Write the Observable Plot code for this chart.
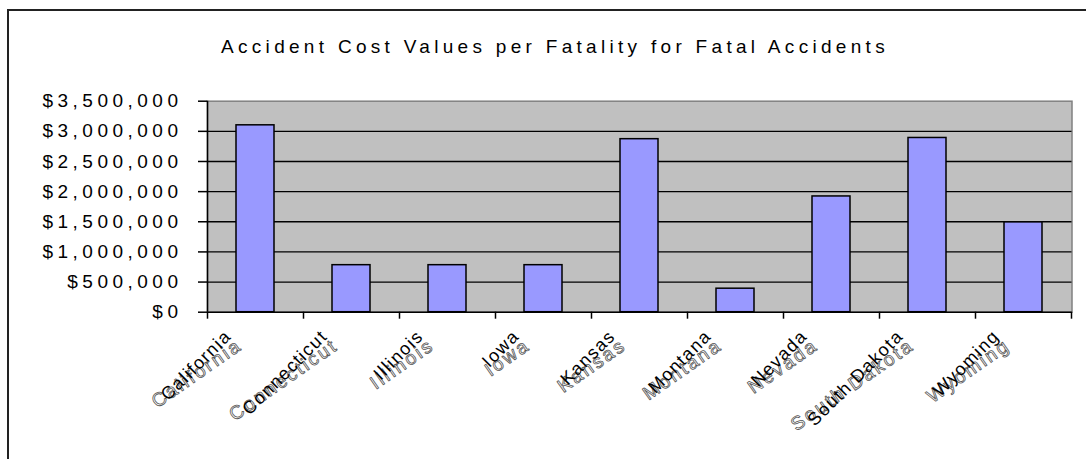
<!DOCTYPE html>
<html>
<head>
<meta charset="utf-8">
<script src="https://cdn.jsdelivr.net/npm/d3@7"></script>
<script src="https://cdn.jsdelivr.net/npm/@observablehq/plot@0.6"></script>
<style>
  html, body { margin: 0; padding: 0; background: #fff; }
  #wrap { position: relative; width: 1086px; height: 459px; overflow: hidden; font-family: "Liberation Sans", Arial, sans-serif; }
  #border { position: absolute; left: 7px; top: 9px; width: 3000px; height: 3000px; border-top: 2px solid #222; border-left: 2px solid #222; }
  #title { position: absolute; left: 0; top: 37px; width: 1110px; text-align: center; font-size: 19px; line-height: 20px; letter-spacing: 4.3px; color: #000; }
  #chart { position: absolute; left: 0; top: 0; }
</style>
</head>
<body>
<div id="wrap">
  <div id="border"></div>
  <div id="title">Accident Cost Values per Fatality for Fatal Accidents</div>
  <div id="chart"></div>
</div>
<script>
const categories = ["California", "Connecticut", "Illinois", "Iowa", "Kansas", "Montana", "Nevada", "South Dakota", "Wyoming"];
const values = [3100000, 780000, 780000, 780000, 2870000, 390000, 1920000, 2890000, 1490000];
const yTicks = [0, 500000, 1000000, 1500000, 2000000, 2500000, 3000000, 3500000];

const data = categories.map((c, i) => ({state: c, value: values[i]}));
const fmt = d => "$" + d3.format(",")(d);

const chart = Plot.plot({
  width: 1086,
  height: 459,
  marginTop: 100.7,
  marginBottom: 147.3,
  marginLeft: 207,
  marginRight: 14.5,
  style: {fontFamily: "Liberation Sans, Arial, sans-serif", background: "transparent", overflow: "visible"},
  x: {domain: categories, paddingInner: 0.6, paddingOuter: 0.3, axis: null},
  y: {domain: [0, 3500000], axis: null},
  marks: [
    Plot.frame({fill: "#c0c0c0", stroke: "#808080", strokeWidth: 1.5}),
    Plot.gridY(yTicks.filter(t => t > 0 && t < 3500000), {stroke: "#000", strokeOpacity: 1, strokeWidth: 1.3}),
    Plot.barY(data, {x: "state", y: "value", fill: "#9999ff", stroke: "#000", strokeWidth: 1.5}),
    Plot.ruleY([0], {stroke: "#000", strokeWidth: 1.5}),
    Plot.ruleX([categories[0]], {x: d => d, dx: -48, stroke: "#000", strokeWidth: 1.5}),
    Plot.ruleX(categories, {x: d => d, y1: () => 0, y2: () => 0, dx: -48, insetBottom: -7, stroke: "#000", strokeWidth: 1.5}),
    Plot.ruleX([categories[categories.length - 1]], {x: d => d, y1: () => 0, y2: () => 0, dx: 48, insetBottom: -7, stroke: "#000", strokeWidth: 1.5}),
    Plot.axisY({ticks: yTicks, tickFormat: fmt, label: null, tickSize: 9, tickPadding: 16, fontSize: 19, strokeWidth: 1.5}),
    Plot.text(categories, {x: d => d, y: () => 0, text: d => d, rotate: -35, textAnchor: "end", lineAnchor: "bottom", dx: -12, dy: 36, fontSize: 19, fill: "none", stroke: "#555", strokeWidth: 0.8}),
    Plot.text(categories, {x: d => d, y: () => 0, text: d => d, rotate: -45, textAnchor: "end", lineAnchor: "bottom", dx: -23, dy: 25, fontSize: 18, fill: "#000"})
  ]
});

document.getElementById("chart").appendChild(chart);
const svg = d3.select(chart);
svg.selectAll('g[aria-label="y-axis tick label"] text').attr("letter-spacing", "4.5px");
const textGroups = svg.selectAll('g[aria-label="text"]').nodes();
d3.select(textGroups[0]).selectAll("text").attr("letter-spacing", "2.5px");
d3.select(textGroups[1]).selectAll("text").attr("letter-spacing", "1.5px");
</script>
</body>
</html>
